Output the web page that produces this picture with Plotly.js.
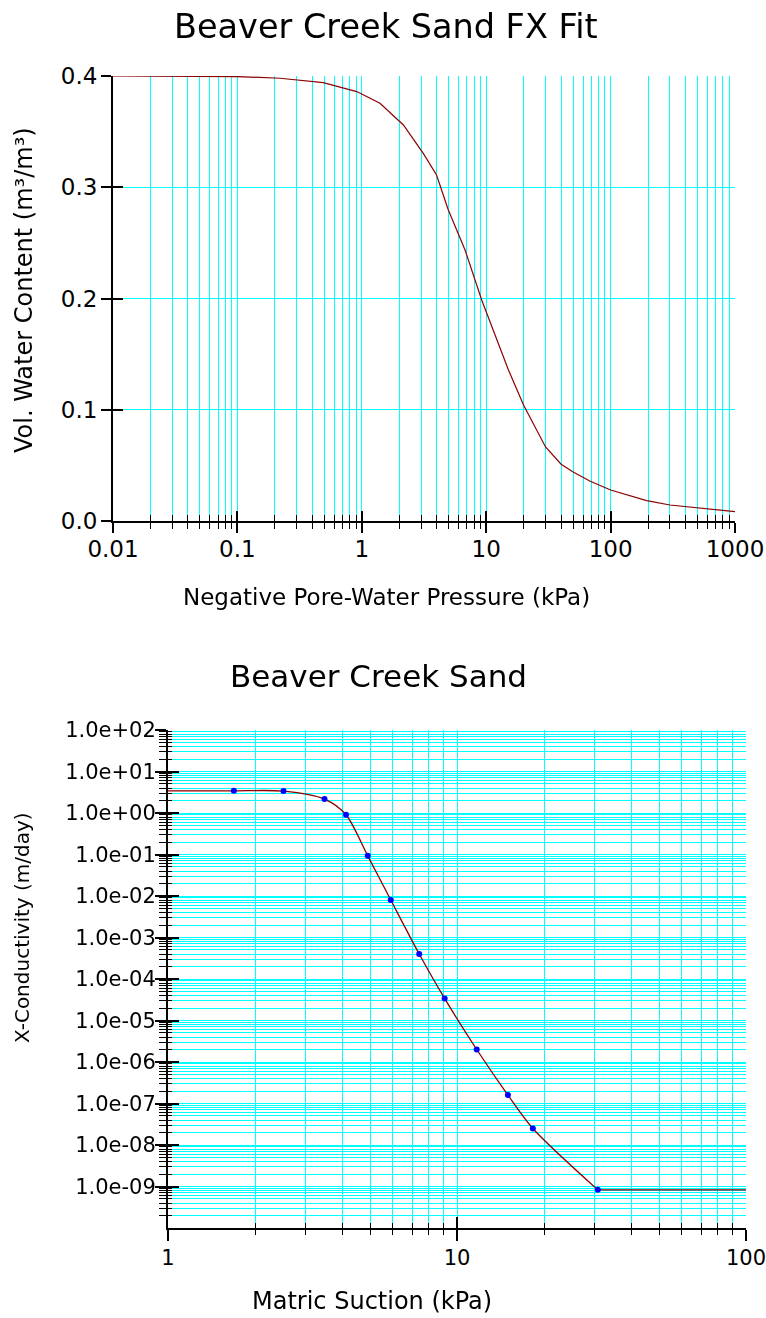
<!DOCTYPE html>
<html>
<head>
<meta charset="utf-8">
<script src="https://cdn.plot.ly/plotly-3.0.1.min.js"></script>
<style>
  html, body { margin: 0; padding: 0; background: #ffffff; }
  #chart { width: 766px; height: 1318px; }
  #chart .gridlayer path, #chart .minor-gridlayer path { shape-rendering: crispEdges; }
</style>
</head>
<body>
<div id="chart"></div>
<script>
// ---------- Data: top chart (SWCC, Fredlund-Xing fit) ----------
const topSuction = [0.01, 0.02, 0.05, 0.1, 0.22, 0.49, 0.91, 1.4, 2.16, 3.12, 3.99, 4.96, 6.76, 9.2, 15.1, 20, 30, 40, 50, 68, 100, 195, 300, 523, 1000];
const topWater   = [0.400, 0.400, 0.400, 0.3995, 0.398, 0.394, 0.386, 0.3755, 0.356, 0.3305, 0.311, 0.2796, 0.2436, 0.1987, 0.1357, 0.104, 0.0665, 0.051, 0.044, 0.036, 0.0279, 0.0183, 0.0144, 0.0114, 0.0084];
const topXTickVals = [0.01, 0.1, 1, 10, 100, 1000];
const topXTickText = ['0.01', '0.1', '1', '10', '100', '1000'];
const topYTickVals = [0, 0.1, 0.2, 0.3, 0.4];
const topYTickText = ['0.0', '0.1', '0.2', '0.3', '0.4'];

// ---------- Data: bottom chart (hydraulic conductivity) ----------
const kPointSuction = [1.69, 2.51, 3.48, 4.13, 4.91, 5.9, 7.4, 9.06, 11.7, 15.0, 18.3, 30.7];
const kPointValue   = [3.43, 3.37, 2.16, 0.905, 0.0927, 8.0e-3, 4.0e-4, 3.4e-5, 2.0e-6, 1.6e-7, 2.5e-8, 8.3e-10];
const kCurveSuction = [1, 1.69, 2.51, 3.48, 4.13, 4.91, 5.9, 7.4, 9.06, 11.7, 15.0, 18.3, 30.7];
const kCurveValue   = [3.43, 3.43, 3.37, 2.16, 0.905, 0.0927, 8.0e-3, 4.0e-4, 3.4e-5, 2.0e-6, 1.6e-7, 2.5e-8, 8.3e-10];
const kTailSuction  = [30.7, 100];
const kTailValue    = [8.3e-10, 8.3e-10];
const botXTickVals = [1, 10, 100];
const botXTickText = ['1', '10', '100'];
const botYTickVals = [1e-9, 1e-8, 1e-7, 1e-6, 1e-5, 1e-4, 1e-3, 1e-2, 1e-1, 1e0, 1e1, 1e2];
const botYTickText = ['1.0e-09', '1.0e-08', '1.0e-07', '1.0e-06', '1.0e-05', '1.0e-04', '1.0e-03', '1.0e-02', '1.0e-01', '1.0e+00', '1.0e+01', '1.0e+02'];

// ---------- helpers (axis decoration only) ----------
function minorLog(d0, d1) {
  const out = [];
  for (let d = d0; d < d1; d++) for (let k = 2; k <= 9; k++) out.push(k * Math.pow(10, d));
  return out;
}
const W = 766, H = 1318;
const CYAN = '#00ffff';
const FONT = 'DejaVu Sans, Arial, sans-serif';
const px = v => v / W;
const py = v => 1 - v / H;

const topXDomain = [px(113), px(735)];
const topYDomain = [py(521), py(76)];
const botXDomain = [px(168), px(746)];
const botYDomain = [py(1228), py(730)];

const topMinorX = minorLog(-2, 3);
const botMinorX = minorLog(0, 2);
const botMinorY = minorLog(-10, 2);

const traces = [
  { x: topSuction, y: topWater, xaxis: 'x', yaxis: 'y', mode: 'lines',
    line: { color: '#8b0000', width: 1.2 }, hoverinfo: 'skip' },
  { x: topSuction, y: topWater, xaxis: 'x3', yaxis: 'y', mode: 'lines', opacity: 0, hoverinfo: 'skip' },
  { x: topSuction, y: topWater, xaxis: 'x', yaxis: 'y3', mode: 'lines', opacity: 0, hoverinfo: 'skip' },

  { x: kCurveSuction, y: kCurveValue, xaxis: 'x2', yaxis: 'y2', mode: 'lines',
    line: { color: '#8b0000', width: 1.3, shape: 'spline', smoothing: 0.8 }, hoverinfo: 'skip' },
  { x: kTailSuction, y: kTailValue, xaxis: 'x2', yaxis: 'y2', mode: 'lines',
    line: { color: '#8b0000', width: 1.3 }, hoverinfo: 'skip' },
  { x: kPointSuction, y: kPointValue, xaxis: 'x2', yaxis: 'y2', mode: 'markers',
    marker: { color: '#0000ff', size: 6 }, hoverinfo: 'skip' },
  { x: kPointSuction, y: kPointValue, xaxis: 'x4', yaxis: 'y2', mode: 'markers', opacity: 0, hoverinfo: 'skip' },
  { x: kPointSuction, y: kPointValue, xaxis: 'x2', yaxis: 'y4', mode: 'markers', opacity: 0, hoverinfo: 'skip' }
];

const tickFontTop = { family: FONT, size: 23, color: '#000' };
const tickFontBot = { family: FONT, size: 21, color: '#000' };

const layout = {
  width: W, height: H,
  margin: { l: 0, r: 0, t: 0, b: 0, pad: 0 },
  paper_bgcolor: '#ffffff', plot_bgcolor: '#ffffff',
  showlegend: false,
  font: { family: FONT, color: '#000' },

  // ----- top chart -----
  xaxis: {
    type: 'log', range: [-2, 3], domain: topXDomain, anchor: 'y',
    showline: true, linecolor: '#000', linewidth: 2, mirror: false,
    ticks: 'outside', ticklen: 10, tickwidth: 2, tickcolor: '#000',
    tickmode: 'array', tickvals: topXTickVals, ticktext: topXTickText,
    tickfont: tickFontTop, ticklabelstandoff: -4, ticklabeloverflow: 'allow',
    showgrid: true, gridcolor: CYAN, gridwidth: 1, zeroline: false,
    minor: { tickmode: 'array', tickvals: topMinorX, ticks: 'outside', ticklen: 6, tickwidth: 1, tickcolor: '#000',
             showgrid: true, gridcolor: CYAN, gridwidth: 1 },
    fixedrange: true
  },
  xaxis3: {
    type: 'log', range: [-2, 3], domain: topXDomain, anchor: 'y', overlaying: 'x',
    showline: false, showgrid: false, zeroline: false, showticklabels: false,
    ticks: 'inside', ticklen: 10, tickwidth: 2, tickcolor: '#000',
    tickmode: 'array', tickvals: topXTickVals,
    minor: { tickmode: 'array', tickvals: topMinorX, ticks: 'inside', ticklen: 6, tickwidth: 1, tickcolor: '#000', showgrid: false },
    fixedrange: true
  },
  yaxis: {
    range: [0, 0.4], domain: topYDomain, anchor: 'x',
    showline: true, linecolor: '#000', linewidth: 2,
    ticks: 'outside', ticklen: 10, tickwidth: 2, tickcolor: '#000',
    tickmode: 'array', tickvals: topYTickVals, ticktext: topYTickText,
    tickfont: tickFontTop, ticklabelstandoff: -1, ticklabeloverflow: 'allow',
    showgrid: true, gridcolor: CYAN, gridwidth: 1, zeroline: false,
    fixedrange: true
  },
  yaxis3: {
    range: [0, 0.4], domain: topYDomain, anchor: 'x', overlaying: 'y',
    showline: false, showgrid: false, zeroline: false, showticklabels: false,
    ticks: 'inside', ticklen: 10, tickwidth: 2, tickcolor: '#000',
    tickmode: 'array', tickvals: topYTickVals,
    fixedrange: true
  },

  // ----- bottom chart -----
  xaxis2: {
    type: 'log', range: [0, 2], domain: botXDomain, anchor: 'y2',
    showline: true, linecolor: '#000', linewidth: 2,
    ticks: 'outside', ticklen: 11, tickwidth: 2, tickcolor: '#000',
    tickmode: 'array', tickvals: botXTickVals, ticktext: botXTickText,
    tickfont: tickFontBot, ticklabelstandoff: -1, ticklabeloverflow: 'allow',
    showgrid: true, gridcolor: CYAN, gridwidth: 1, zeroline: false,
    minor: { tickmode: 'array', tickvals: botMinorX, ticks: 'outside', ticklen: 5, tickwidth: 1, tickcolor: '#000',
             showgrid: true, gridcolor: CYAN, gridwidth: 1 },
    fixedrange: true
  },
  xaxis4: {
    type: 'log', range: [0, 2], domain: botXDomain, anchor: 'y2', overlaying: 'x2',
    showline: false, showgrid: false, zeroline: false, showticklabels: false,
    ticks: 'inside', ticklen: 11, tickwidth: 2, tickcolor: '#000',
    tickmode: 'array', tickvals: botXTickVals,
    minor: { tickmode: 'array', tickvals: botMinorX, ticks: 'inside', ticklen: 5, tickwidth: 1, tickcolor: '#000', showgrid: false },
    fixedrange: true
  },
  yaxis2: {
    type: 'log', range: [-10, 2], domain: botYDomain, anchor: 'x2',
    showline: true, linecolor: '#000', linewidth: 2,
    ticks: 'outside', ticklen: 11, tickwidth: 2, tickcolor: '#000',
    tickmode: 'array', tickvals: botYTickVals, ticktext: botYTickText,
    tickfont: tickFontBot, ticklabelstandoff: -5, ticklabeloverflow: 'allow',
    showgrid: true, gridcolor: CYAN, gridwidth: 1, zeroline: false,
    minor: { tickmode: 'array', tickvals: botMinorY, ticks: 'outside', ticklen: 7, tickwidth: 1, tickcolor: '#000',
             showgrid: true, gridcolor: CYAN, gridwidth: 1 },
    fixedrange: true
  },
  yaxis4: {
    type: 'log', range: [-10, 2], domain: botYDomain, anchor: 'x2', overlaying: 'y2',
    showline: false, showgrid: false, zeroline: false, showticklabels: false,
    ticks: 'inside', ticklen: 11, tickwidth: 2, tickcolor: '#000',
    tickmode: 'array', tickvals: botYTickVals,
    minor: { tickmode: 'array', tickvals: botMinorY, ticks: 'inside', ticklen: 4, tickwidth: 1, tickcolor: '#000', showgrid: false },
    fixedrange: true
  },

  annotations: [
    { text: 'Beaver Creek Sand FX Fit', xref: 'paper', yref: 'paper', x: px(386), y: py(27),
      xanchor: 'center', yanchor: 'middle', showarrow: false, font: { family: FONT, size: 33.5, color: '#000' } },
    { text: 'Vol. Water Content (m³/m³)', xref: 'paper', yref: 'paper', x: px(24), y: py(290), textangle: -90,
      xanchor: 'center', yanchor: 'middle', showarrow: false, font: { family: FONT, size: 24, color: '#000' } },
    { text: 'Negative Pore-Water Pressure (kPa)', xref: 'paper', yref: 'paper', x: px(386), y: py(597),
      xanchor: 'center', yanchor: 'middle', showarrow: false, font: { family: FONT, size: 23, color: '#000' } },
    { text: 'Beaver Creek Sand', xref: 'paper', yref: 'paper', x: px(378), y: py(676),
      xanchor: 'center', yanchor: 'middle', showarrow: false, font: { family: FONT, size: 31, color: '#000' } },
    { text: 'X-Conductivity (m/day)', xref: 'paper', yref: 'paper', x: px(22), y: py(928), textangle: -90,
      xanchor: 'center', yanchor: 'middle', showarrow: false, font: { family: FONT, size: 20, color: '#000' } },
    { text: 'Matric Suction (kPa)', xref: 'paper', yref: 'paper', x: px(372), y: py(1301), borderpad: 0,
      xanchor: 'center', yanchor: 'middle', showarrow: false, font: { family: FONT, size: 24, color: '#000' } }
  ]
};

Plotly.newPlot('chart', traces, layout, { staticPlot: true, displayModeBar: false });
</script>
</body>
</html>
